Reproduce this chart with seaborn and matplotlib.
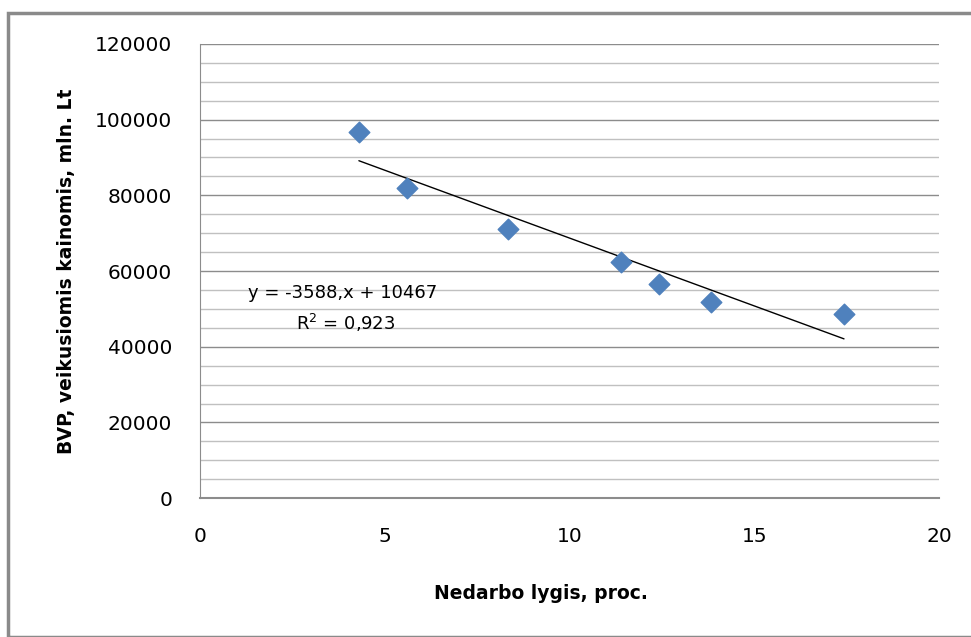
import matplotlib
matplotlib.use("Agg")
import matplotlib.pyplot as plt
import seaborn as sns
import numpy as np
import pandas as pd
from matplotlib.ticker import MultipleLocator

unemployment = [4.3, 5.6, 8.34, 11.39, 12.42, 13.83, 17.43]
gdp = [96740, 81940, 71100, 62380, 56560, 51800, 48630]
x_ticks = [0, 5, 10, 15, 20]
y_ticks = [0, 20000, 40000, 60000, 80000, 100000, 120000]
eq_text = "y = -3588,x + 10467"
r2_text = "R$^2$ = 0,923"
x_label = "Nedarbo lygis, proc."
y_label = "BVP, veikusiomis kainomis, mln. Lt"

df = pd.DataFrame({"x": unemployment, "y": gdp})

sns.set_style("white")
plt.rcParams['font.family'] = ['DejaVu Sans']
plt.rcParams['mathtext.fontset'] = 'dejavusans'
plt.rcParams['text.color'] = 'black'
plt.rcParams['axes.labelcolor'] = 'black'
plt.rcParams['xtick.labelcolor'] = 'black'
plt.rcParams['ytick.labelcolor'] = 'black'

fig = plt.figure(figsize=(9.71, 6.37), dpi=100)
ax = fig.add_axes([0.206, 0.218, 0.761, 0.713])

# outer frame
frame = plt.Rectangle((8/971, 0.0), 1.0, 1 - 13/637, transform=fig.transFigure,
                      fill=False, edgecolor="#8a8a8a", linewidth=2.5, clip_on=False)
fig.patches.append(frame)

ax.set_xlim(0, 20)
ax.set_ylim(0, 120000)
ax.yaxis.set_minor_locator(MultipleLocator(5000))
ax.set_xticks(x_ticks)
ax.set_yticks(y_ticks)
ax.grid(which="minor", axis="y", color="#c0c0c0", linewidth=1.0)
ax.grid(which="major", axis="y", color="#8c8c8c", linewidth=1.0)
ax.grid(which="major", axis="x", visible=False)
ax.set_axisbelow(True)

sns.regplot(data=df, x="x", y="y", ci=None, ax=ax,
            marker="D",
            scatter_kws=dict(s=110, color="#4f81bd", edgecolors="#4f81bd",
                             alpha=1.0, zorder=3),
            line_kws=dict(color="black", linewidth=1.0, zorder=2))

for side in ["top", "right"]:
    ax.spines[side].set_visible(False)
ax.spines["left"].set_color("#8c8c8c")
ax.spines["bottom"].set_color("#8c8c8c")
ax.spines["bottom"].set_linewidth(1.5)

ax.tick_params(axis="y", which="major", direction="out", length=6, color="#8c8c8c",
               labelcolor="black", labelsize=14.5, pad=14)
ax.tick_params(axis="y", which="minor", length=0)
ax.tick_params(axis="x", which="major", direction="out", length=6, color="#8c8c8c",
               labelcolor="black", labelsize=14.5, pad=15)
ax.set_xlabel(x_label, fontsize=13.5, fontweight="bold", color="black")
ax.xaxis.set_label_coords(0.461, -0.19)
ax.set_ylabel(y_label, fontsize=13.5, fontweight="bold", labelpad=14, color="black")

ax.text(1.3, 54200, eq_text, fontsize=13, ha="left", va="center", color="black")
ax.text(3.95, 46300, r2_text, fontsize=13, ha="center", va="center", color="black")

fig.savefig("out.png", dpi=100)
